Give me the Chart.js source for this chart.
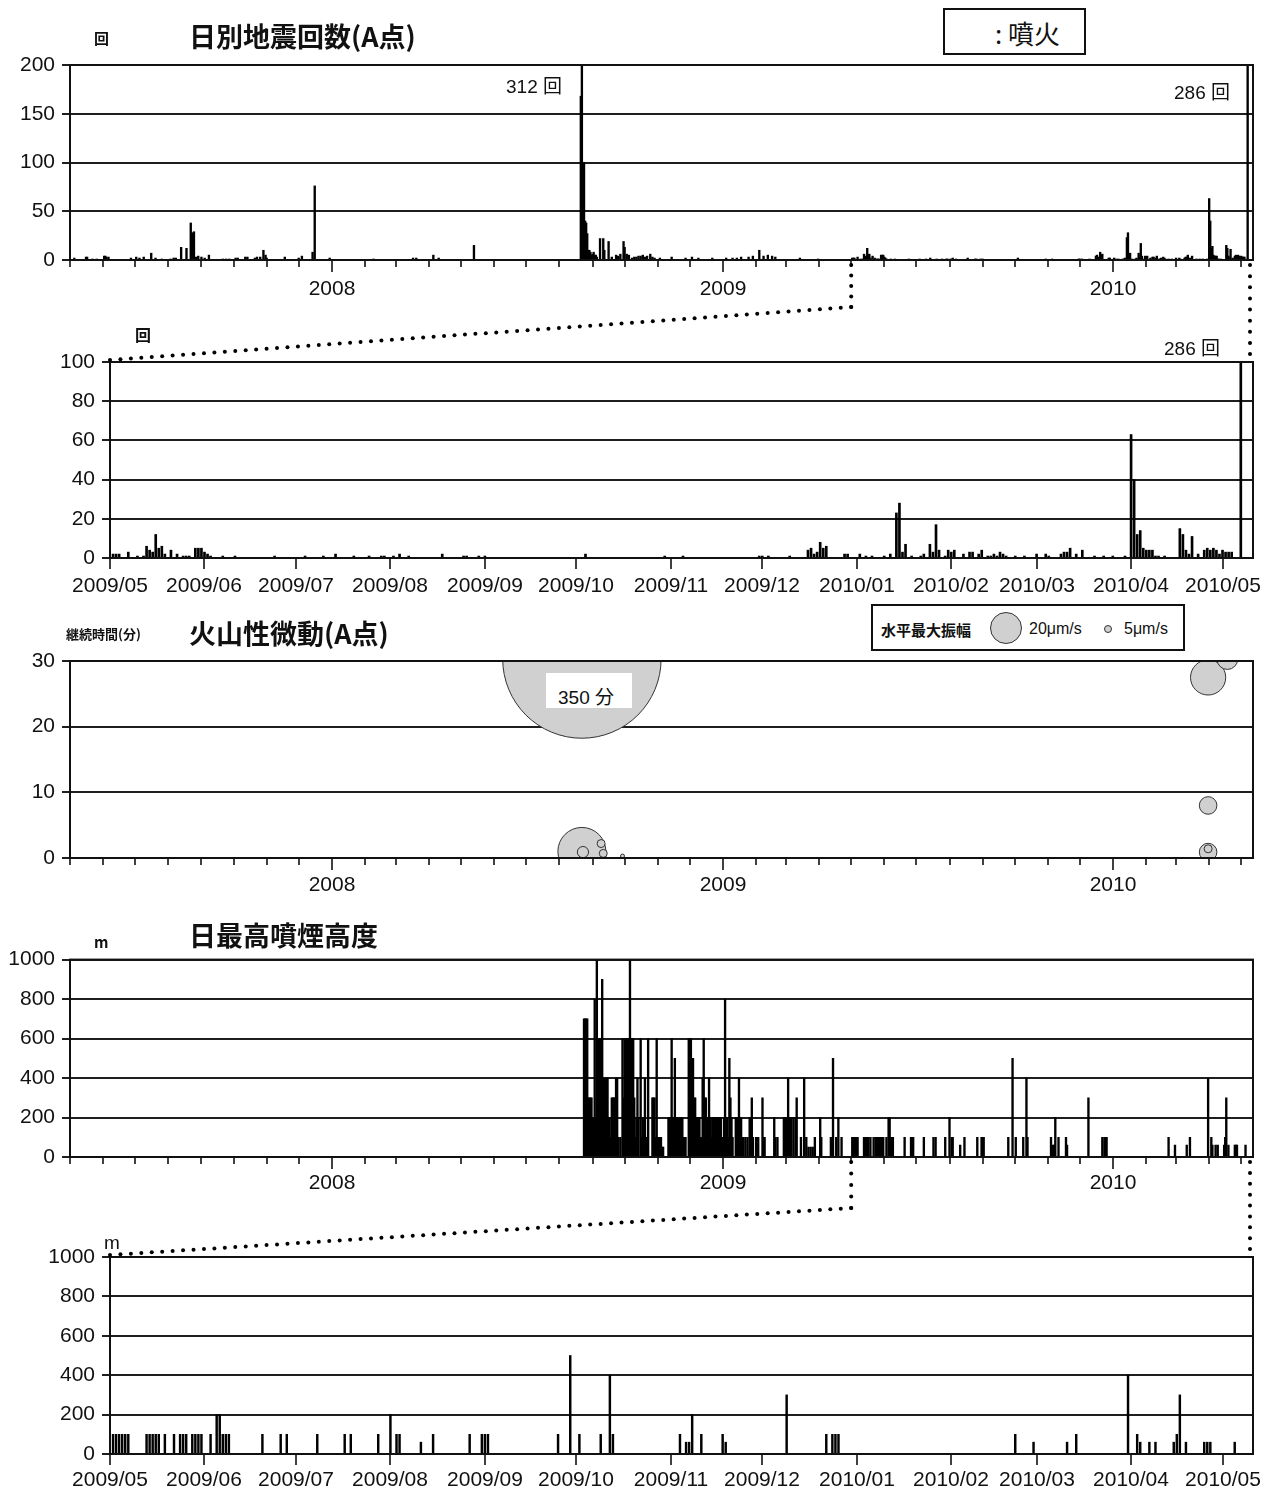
<!DOCTYPE html>
<html lang="ja">
<head>
<meta charset="utf-8">
<title>日別地震回数・火山性微動・日最高噴煙高度</title>
<script src="https://cdn.jsdelivr.net/npm/chart.js@4.4.1/dist/chart.umd.min.js"></script>
<style>
  html, body { margin: 0; padding: 0; background: #fff; }
  #page { position: relative; width: 1274px; height: 1495px; overflow: hidden;
          font-family: "Liberation Sans", Arial, "Noto Sans CJK JP", sans-serif; color: #111; }
  canvas { position: absolute; left: 0; }
  #overlay { top: 0; z-index: 5; pointer-events: none; }
  .t { position: absolute; white-space: nowrap; line-height: 1; transform: translateY(-50%); z-index: 6; }
  .title { font-family: "Noto Sans CJK JP", sans-serif; font-weight: bold; font-size: 27px; }
  .unit { font-family: "Noto Sans CJK JP", sans-serif; font-weight: bold; }
  .box { position: absolute; border: 2px solid #111; background: #fff; box-sizing: border-box; z-index: 6; }
  .dot { position: absolute; border-radius: 50%; background: #d0d0d0; border: 1px solid #333; box-sizing: border-box; }
</style>
</head>
<body>
<div id="page">
  <canvas id="quakeAll" width="1274" height="310" style="top:0"></canvas>
  <canvas id="quakeZoom" width="1274" height="260" style="top:340px"></canvas>
  <canvas id="tremor" width="1274" height="260" style="top:640px"></canvas>
  <canvas id="smokeAll" width="1274" height="260" style="top:940px"></canvas>
  <canvas id="smokeZoom" width="1274" height="258" style="top:1237px"></canvas>
  <canvas id="overlay" width="1274" height="1495"></canvas>

  <!-- panel 1 -->
  <div class="t unit" style="left:94px;top:37px;font-size:15px">回</div>
  <div class="t title" style="left:189px;top:35px">日別地震回数(A点)</div>
  <div class="box" style="left:943px;top:8px;width:143px;height:47px">
    <div class="t" style="left:50px;top:23px;font-size:26px;font-family:'Noto Sans CJK JP',sans-serif">: 噴火</div>
  </div>
  <div class="t" style="left:506px;top:86px;font-size:19px">312 回</div>
  <div class="t" style="left:1174px;top:92px;font-size:19px">286 回</div>

  <!-- panel 2 -->
  <div class="t unit" style="left:135px;top:334px;font-size:16px">回</div>
  <div class="t" style="left:1164px;top:348px;font-size:19px">286 回</div>

  <!-- panel 3 -->
  <div class="t unit" style="left:66px;top:633px;font-size:13px">継続時間(分)</div>
  <div class="t title" style="left:189px;top:632px">火山性微動(A点)</div>
  <div class="box" style="left:871px;top:604px;width:314px;height:47px">
    <div class="t unit" style="left:8px;top:23px;font-size:15px">水平最大振幅</div>
    <div class="dot" style="left:117px;top:6px;width:32px;height:32px"></div>
    <div class="t" style="left:156px;top:23px;font-size:16px">20μm/s</div>
    <div class="dot" style="left:231px;top:19px;width:8px;height:8px"></div>
    <div class="t" style="left:251px;top:23px;font-size:16px">5μm/s</div>
  </div>
  <div class="box" style="left:546px;top:673px;width:86px;height:35px;border:none">
    <div class="t" style="left:12px;top:24px;font-size:19px">350 分</div>
  </div>

  <!-- panel 4 -->
  <div class="t unit" style="left:94px;top:941px;font-size:15px">m</div>
  <div class="t title" style="left:189px;top:934px">日最高噴煙高度</div>

  <!-- panel 5 -->
  <div class="t" style="left:104px;top:1242px;font-size:19px">m</div>
</div>

<script>
// ---- data ----

// daily earthquake counts (A station), only days with events
const quakeDates = [
  '2007-05-05','2007-05-16','2007-05-17','2007-05-22','2007-05-26','2007-06-02','2007-06-03','2007-06-04',
  '2007-06-06','2007-06-27','2007-07-02','2007-07-05','2007-07-09','2007-07-16','2007-07-20','2007-07-26',
  '2007-08-03','2007-08-06','2007-08-08','2007-08-13','2007-08-18','2007-08-22','2007-08-23','2007-08-24',
  '2007-08-25','2007-08-27','2007-08-29','2007-09-01','2007-09-04','2007-09-08','2007-09-21','2007-09-24',
  '2007-09-27','2007-10-03','2007-10-05','2007-10-12','2007-10-14','2007-10-21','2007-10-23','2007-10-26',
  '2007-10-29','2007-10-31','2007-11-01','2007-11-18','2007-12-01','2007-12-04','2007-12-14','2007-12-16',
  '2007-12-30',
  '2008-02-09','2008-03-17','2008-03-20','2008-04-05','2008-04-10','2008-05-13',
  '2008-08-21','2008-08-22','2008-08-23','2008-08-24','2008-08-25','2008-08-26','2008-08-27','2008-08-28',
  '2008-08-29','2008-08-30','2008-08-31','2008-09-01','2008-09-02','2008-09-03','2008-09-04','2008-09-05',
  '2008-09-08','2008-09-11','2008-09-12','2008-09-16','2008-09-19','2008-09-23','2008-09-25','2008-09-27',
  '2008-09-30','2008-10-01','2008-10-03','2008-10-05','2008-10-08','2008-10-10','2008-10-12','2008-10-14',
  '2008-10-16','2008-10-18','2008-10-20','2008-10-22','2008-10-25','2008-10-27','2008-10-29','2008-11-03',
  '2008-11-14','2008-11-27','2008-12-03','2008-12-09','2008-12-22',
  '2009-01-04','2009-01-10','2009-01-14','2009-01-18','2009-01-25','2009-01-29','2009-02-04','2009-02-08',
  '2009-02-12','2009-02-16','2009-02-19','2009-03-14','2009-03-31',
  '2009-05-02','2009-05-03','2009-05-04','2009-05-07','2009-05-10','2009-05-12','2009-05-13','2009-05-14',
  '2009-05-15','2009-05-16','2009-05-17','2009-05-18','2009-05-19','2009-05-21','2009-05-23','2009-05-25',
  '2009-05-26','2009-05-27','2009-05-29','2009-05-30','2009-05-31','2009-06-01','2009-06-02','2009-06-03',
  '2009-06-07','2009-06-11','2009-06-24','2009-07-04','2009-07-10','2009-07-14','2009-07-20','2009-07-25',
  '2009-07-29','2009-07-30','2009-08-02','2009-08-04','2009-08-07','2009-08-18','2009-08-25','2009-08-26',
  '2009-08-30','2009-09-01','2009-10-04','2009-10-30','2009-11-05','2009-11-30','2009-12-01','2009-12-03',
  '2009-12-10','2009-12-16','2009-12-17','2009-12-18','2009-12-19','2009-12-20','2009-12-21','2009-12-22',
  '2009-12-28','2009-12-29',
  '2010-01-02','2010-01-04','2010-01-06','2010-01-10','2010-01-12','2010-01-14','2010-01-15','2010-01-16',
  '2010-01-17','2010-01-19','2010-01-22','2010-01-23','2010-01-25','2010-01-26','2010-01-27','2010-01-28',
  '2010-01-30','2010-01-31','2010-02-01','2010-02-02','2010-02-05','2010-02-07','2010-02-08','2010-02-10',
  '2010-02-11','2010-02-13','2010-02-14','2010-02-15','2010-02-16','2010-02-17','2010-02-18','2010-02-19',
  '2010-02-22','2010-02-25','2010-03-01','2010-03-04','2010-03-05','2010-03-09','2010-03-10','2010-03-11',
  '2010-03-12','2010-03-14','2010-03-16','2010-03-20','2010-03-23','2010-03-26','2010-03-30','2010-04-01',
  '2010-04-02','2010-04-03','2010-04-04','2010-04-05','2010-04-06','2010-04-07','2010-04-08','2010-04-09',
  '2010-04-10','2010-04-12','2010-04-17','2010-04-18','2010-04-19','2010-04-20','2010-04-21','2010-04-23',
  '2010-04-25','2010-04-26','2010-04-27','2010-04-28','2010-04-29','2010-04-30','2010-05-01','2010-05-02',
  '2010-05-03','2010-05-04','2010-05-07'
];
const quakeCounts = [
  2,3,3,1,1,4,4,3,
  3,2,3,2,3,7,2,1,
  1,2,2,13,12,38,27,28,
  29,3,4,3,2,5,1,1,
  1,2,2,3,3,2,3,3,
  10,5,2,3,2,4,8,76,
  2,
  1,2,2,5,2,15,
  168,312,100,100,40,38,27,10,
  10,8,5,6,8,5,5,3,
  22,22,10,19,3,5,4,6,
  19,13,6,5,2,3,3,4,
  4,5,3,4,6,3,2,2,
  3,2,3,2,2,
  2,2,2,3,3,4,10,4,
  5,4,3,2,1,
  2,2,2,3,1,1,6,4,
  3,12,5,6,2,4,2,1,
  1,1,5,5,5,3,2,1,
  1,1,1,1,1,2,1,1,
  1,1,1,2,1,2,1,1,
  1,1,2,1,1,1,1,1,
  1,4,5,2,3,8,5,6,
  2,2,
  2,1,1,1,2,23,28,3,
  7,1,1,2,7,3,17,4,
  1,4,3,4,2,3,3,2,
  4,1,1,2,1,3,2,1,
  1,1,2,2,1,2,3,3,
  5,2,4,1,1,1,1,63,
  40,12,14,5,4,4,4,1,
  1,1,15,12,4,2,11,2,
  4,5,4,5,4,2,4,3,
  3,3,286
];

// volcanic tremor: date, duration (min), max horizontal amplitude (μm/s)
const tremorDates   = ['2008-08-22','2008-08-22','2008-08-23','2008-09-09','2008-09-11','2008-09-29',
                       '2010-03-31','2010-04-18','2010-03-31','2010-03-31','2010-03-31'];
const tremorMinutes = [350, 1, 0.9, 2.2, 0.7, 0.3, 27.5, 31, 8, 0.9, 1.4];
const tremorAmps    = [99, 30, 7, 5, 5, 2.5, 22, 13, 11, 11, 5];
const tremorAxisMax = 30;

// daily max plume height (m): continuous daily record from 2008-08-24 to 2009-04-30
const smokeDailyStart = '2008-08-24';
const smokeDailyHeights = [
  700,700,700,700,300,300,300,300,200,200,
  800,200,1000,200,600,600,600,900,400,400,
  400,400,400,200,200,100,300,300,300,300,
  400,400,100,0,100,0,600,300,600,600,
  600,600,600,1000,600,600,600,300,100,200,
  400,200,0,600,100,200,50,400,0,100,
  600,0,0,0,300,300,300,100,600,100,
  100,100,100,50,50,0,0,0,0,200,
  200,200,600,200,200,500,200,200,100,200,
  200,200,200,100,100,100,0,0,600,600,
  600,500,500,300,300,200,200,200,200,100,
  100,400,600,300,300,200,200,400,200,100,
  200,200,200,200,200,200,200,200,200,100,
  100,200,800,200,200,100,500,300,200,100,
  0,0,200,200,200,400,200,200,100,100,
  0,100,0,100,0,200,200,300,100,0,
  0,100,0,100,0,0,0,300,100,100,
  0,0,0,0,0,0,0,0,200,100,
  0,100,0,0,0,0,0,200,200,200,
  200,400,200,200,200,0,200,0,200,300,
  0,0,0,100,0,0,400,0,100,0,
  50,0,50,0,50,0,100,0,0,0,
  0,200,100,0,0,0,0,0,0,0,
  0,100,0,500,0,0,100,0,200,0,
  0,100,0,0,0,0,0,0,0,0
];
// plume heights after 2009-05-01 (days with plume only)
const smokeDates = [
  '2009-05-02','2009-05-03','2009-05-04','2009-05-05','2009-05-06','2009-05-07','2009-05-13','2009-05-14',
  '2009-05-15','2009-05-16','2009-05-17','2009-05-19','2009-05-22','2009-05-24','2009-05-25','2009-05-26',
  '2009-05-28','2009-05-29','2009-05-30','2009-05-31','2009-06-03','2009-06-05','2009-06-06','2009-06-07',
  '2009-06-08','2009-06-09','2009-06-20','2009-06-26','2009-06-28','2009-07-08','2009-07-17','2009-07-19',
  '2009-07-28','2009-08-01','2009-08-03','2009-08-04','2009-08-11','2009-08-15','2009-08-27','2009-08-31',
  '2009-09-01','2009-09-02','2009-09-25','2009-09-29','2009-10-02','2009-10-09','2009-10-12','2009-10-13',
  '2009-11-04','2009-11-06','2009-11-07','2009-11-08','2009-11-11','2009-11-18','2009-11-19','2009-12-09',
  '2009-12-22','2009-12-24','2009-12-25','2009-12-26','2010-02-22','2010-02-28','2010-03-11','2010-03-14',
  '2010-03-31','2010-04-03','2010-04-04','2010-04-07','2010-04-09','2010-04-15','2010-04-16','2010-04-17',
  '2010-04-19','2010-04-25','2010-04-26','2010-04-27','2010-05-05'
];
const smokeHeights = [
  100,100,100,100,100,100,100,100,
  100,100,100,100,100,100,100,100,
  100,100,100,100,100,200,200,100,
  100,100,100,100,100,100,100,100,
  100,200,100,100,60,100,100,100,
  100,100,100,500,100,100,400,100,
  100,60,60,200,100,100,60,300,
  100,100,100,100,100,60,60,100,
  400,100,60,60,60,60,100,300,
  60,60,60,60,60
];

// axis ranges and ticks
const longRange  = ['2007-05-01', '2010-05-12'];
const shortRange = ['2009-05-01', '2010-05-11'];
const quakeTicks = { all: [200, 50, 50], zoom: [100, 10, 20] };   // max, step, label every
const tremorTicks = [30, 10, 10];
const smokeTicks = [1000, 200, 200];

// ---- helpers ----
const DAY = 86400000;
const INK = '#111';
const FONT = '"Liberation Sans", Arial, sans-serif';
function dayNum(s) { const p = s.split('-'); return Date.UTC(+p[0], +p[1] - 1, +p[2]) / DAY; }

const quakePoints = quakeDates.map((d, i) => ({ x: dayNum(d), y: quakeCounts[i] }));
const smokePoints = [];
smokeDailyHeights.forEach((h, i) => { if (h > 0) smokePoints.push({ x: dayNum(smokeDailyStart) + i, y: h }); });
smokeDates.forEach((d, i) => smokePoints.push({ x: dayNum(d), y: smokeHeights[i] }));
const tremorPoints = tremorDates.map((d, i) => ({
  x: dayNum(d), y: Math.min(tremorMinutes[i], tremorAxisMax + 0.3), r: tremorAmps[i] * 0.8
}));

// month ticks, year labels or yyyy/mm labels, and plot frame
const timeAxis = {
  id: 'timeAxis',
  afterDraw(chart, args, opts) {
    const ctx = chart.ctx, a = chart.chartArea, x = chart.scales.x;
    ctx.save();
    ctx.strokeStyle = INK;
    ctx.lineWidth = 2;
    ctx.strokeRect(a.left, a.top, a.right - a.left, a.bottom - a.top);
    ctx.lineWidth = 1.6;
    ctx.fillStyle = INK;
    ctx.font = '21px ' + FONT;
    ctx.textAlign = 'center';
    ctx.textBaseline = 'middle';
    const first = new Date(x.min * DAY);
    let yr = first.getUTCFullYear(), mo = first.getUTCMonth();
    while (true) {
      const v = Date.UTC(yr, mo, 1) / DAY;
      if (v > x.max) break;
      if (v >= x.min) {
        const px = Math.round(x.getPixelForValue(v));
        const len = opts.mode === 'year' ? (mo === 0 ? 12 : 7) : 11;
        ctx.beginPath();
        ctx.moveTo(px, a.bottom);
        ctx.lineTo(px, a.bottom + len);
        ctx.stroke();
        if (opts.mode === 'year' && mo === 0) ctx.fillText(String(yr), px, a.bottom + opts.labelY);
        if (opts.mode === 'month') ctx.fillText(yr + '/' + String(mo + 1).padStart(2, '0'), px, a.bottom + opts.labelY);
      }
      mo++;
      if (mo === 12) { mo = 0; yr++; }
    }
    ctx.restore();
  }
};

function xAxis(range, height) {
  return {
    type: 'linear', min: dayNum(range[0]), max: dayNum(range[1]), offset: false,
    afterFit: s => { s.height = height; },
    ticks: { display: false }, grid: { display: false, offset: false }, border: { display: false }
  };
}
function yAxis(t, width) {
  return {
    min: 0, max: t[0],
    afterFit: s => { s.width = width; },
    ticks: { stepSize: t[1], color: INK, font: { family: FONT, size: 21 }, padding: 7,
             callback: v => (v % t[2] === 0 ? v : '') },
    grid: { color: '#1e1e1e', lineWidth: 2, tickLength: 8 },
    border: { color: INK, width: 2 }
  };
}
function makeChart(id, type, dataset, x, y, padTop, mode, labelY) {
  return new Chart(document.getElementById(id), {
    type: type,
    data: { datasets: [dataset] },
    options: {
      responsive: false, animation: false, devicePixelRatio: 1,
      layout: { autoPadding: false, padding: { top: padTop, right: 21, left: 0, bottom: 0 } },
      plugins: { legend: { display: false }, tooltip: { enabled: false }, timeAxis: { mode: mode, labelY: labelY } },
      scales: { x: x, y: y }
    },
    plugins: [timeAxis]
  });
}
function bars(points, thick) {
  return { data: points, backgroundColor: '#000', borderWidth: 0, barThickness: thick, clip: 0 };
}

const quakeAll = makeChart('quakeAll', 'bar', bars(quakePoints, 1.7),
  xAxis(longRange, 50), yAxis(quakeTicks.all, 70), 65, 'year', 29);
const quakeZoom = makeChart('quakeZoom', 'bar', bars(quakePoints, 2),
  xAxis(shortRange, 42), yAxis(quakeTicks.zoom, 110), 22, 'month', 28);
const tremor = makeChart('tremor', 'bubble',
  { data: tremorPoints, backgroundColor: '#d0d0d0', borderColor: '#333', borderWidth: 1, clip: 0 },
  xAxis(longRange, 42), yAxis(tremorTicks, 70), 21, 'year', 27);
const smokeAll = makeChart('smokeAll', 'bar', bars(smokePoints, 1.7),
  xAxis(longRange, 43), yAxis(smokeTicks, 70), 19, 'year', 26);
const smokeZoom = makeChart('smokeZoom', 'bar', bars(smokePoints, 1.8),
  xAxis(shortRange, 41), yAxis(smokeTicks, 110), 20, 'month', 26);

// dotted connectors between the overview and the zoomed panels
const ov = document.getElementById('overlay').getContext('2d');
ov.fillStyle = '#000';
function dotted(pts) {
  for (let i = 0; i < pts.length - 1; i++) {
    const [x0, y0] = pts[i], [x1, y1] = pts[i + 1];
    const n = Math.max(1, Math.round(Math.hypot(x1 - x0, y1 - y0) / 10.5));
    for (let k = 0; k <= n; k++) {
      ov.beginPath();
      ov.arc(x0 + (x1 - x0) * k / n, y0 + (y1 - y0) * k / n, 2, 0, Math.PI * 2);
      ov.fill();
    }
  }
}
function connect(big, bigTop, small, smallTop, mid) {
  const start = dayNum(shortRange[0]);
  const bx = big.scales.x.getPixelForValue(start);
  const bBottom = bigTop + big.chartArea.bottom;
  const sx = small.chartArea.left;
  const sTop = smallTop + small.chartArea.top;
  const right = big.chartArea.right - 3;
  dotted([[sx, sTop - 2], [bx, mid], [bx, bBottom + 5]]);
  dotted([[right, bBottom + 5], [right, sTop - 8]]);
}
connect(quakeAll, 0, quakeZoom, 340, 307);
connect(smokeAll, 940, smokeZoom, 1237, 1208);
</script>
</body>
</html>
